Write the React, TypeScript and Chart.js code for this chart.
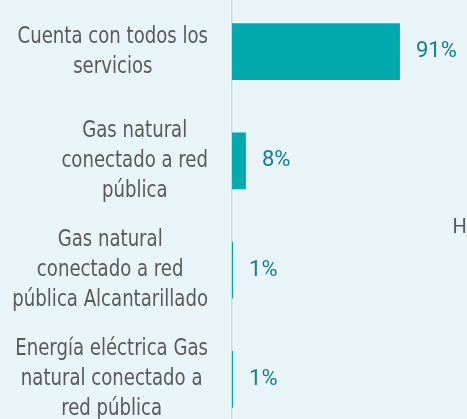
import React, { useEffect, useRef } from "react";
import { Chart, registerables } from "chart.js";

Chart.register(...registerables);

const categories: string[][] = [
  ["Cuenta con todos los", "servicios"],
  ["Gas natural", "conectado a red", "pública"],
  ["Gas natural", "conectado a red", "pública Alcantarillado"],
  ["Energía eléctrica Gas", "natural conectado a", "red pública"],
];
const values: number[] = [90.8, 7.5, 0.6, 0.6];
const valueLabels: string[] = ["91%", "8%", "1%", "1%"];

const BG = "#e9f4f9";
const BAR = "#00aaad";
const VALUE_COLOR = "#137f89";
const CAT_COLOR = "#595959";
const CAT_FONT = "23px 'DejaVu Sans Condensed', 'DejaVu Sans', sans-serif";
const CAT_SX = 0.875;

export default function App() {
  const ref = useRef<HTMLCanvasElement | null>(null);

  useEffect(() => {
    if (!ref.current) return;
    const labelPlugin = {
      id: "customLabels",
      afterDatasetsDraw(chart: any) {
        const ctx = chart.ctx;
        const yScale = chart.scales.y;
        ctx.save();
        // category labels
        ctx.font = CAT_FONT;
        ctx.fillStyle = CAT_COLOR;
        ctx.textAlign = "center";
        ctx.textBaseline = "middle";
        const rightEdge = 208;
        const lh = 30;
        categories.forEach((lines, i) => {
          const y = yScale.getPixelForTick(i);
          const w = Math.max(...lines.map((l) => ctx.measureText(l).width)) * CAT_SX;
          const cx = rightEdge - w / 2;
          lines.forEach((l, j) => {
            ctx.save();
            ctx.translate(cx, y + (j - (lines.length - 1) / 2) * lh);
            ctx.scale(CAT_SX, 1);
            ctx.fillText(l, 0, 0);
            ctx.restore();
          });
        });
        // value labels
        ctx.font = "22px Roboto, sans-serif";
        ctx.fillStyle = VALUE_COLOR;
        ctx.textAlign = "left";
        const meta = chart.getDatasetMeta(0);
        meta.data.forEach((bar: any, i: number) => {
          ctx.fillText(valueLabels[i], bar.x + 16, bar.y);
        });
        ctx.restore();
      },
    };

    const chart = new Chart(ref.current, {
      type: "bar",
      data: {
        labels: categories.map((c) => c.join(" ")),
        datasets: [
          {
            data: values,
            backgroundColor: BAR,
            borderWidth: 0,
            barPercentage: 0.52,
            categoryPercentage: 1,
          },
        ],
      },
      options: {
        indexAxis: "y",
        responsive: false,
        animation: false,
        maintainAspectRatio: false,
        layout: { padding: { left: 0, right: 50, top: 0, bottom: 0 } },
        plugins: {
          legend: { display: false },
          tooltip: { enabled: false },
        },
        scales: {
          x: {
            display: false,
            min: 0,
            max: 100,
          },
          y: {
            ticks: { display: false },
            grid: { display: false, drawTicks: false },
            border: { display: true, color: "#d6d9db", width: 1.5 },
            afterFit: (s: any) => {
              s.width = 232;
            },
          },
        },
      },
      plugins: [labelPlugin],
    });
    return () => chart.destroy();
  }, []);

  return (
    <div
      style={{
        position: "fixed",
        left: 0,
        top: 0,
        width: 467,
        height: 419,
        overflow: "hidden",
        background: BG,
      }}
    >
      <canvas
        ref={ref}
        width={467}
        height={437}
        style={{ position: "absolute", left: 0, top: -3, width: 467, height: 437 }}
      />
      <span
        style={{
          position: "absolute",
          left: 452.5,
          top: 215.5,
          fontFamily: "Roboto, sans-serif",
          fontSize: 20,
          lineHeight: "20px",
          color: "#5a5a5a",
        }}
      >
        H
      </span>
    </div>
  );
}
